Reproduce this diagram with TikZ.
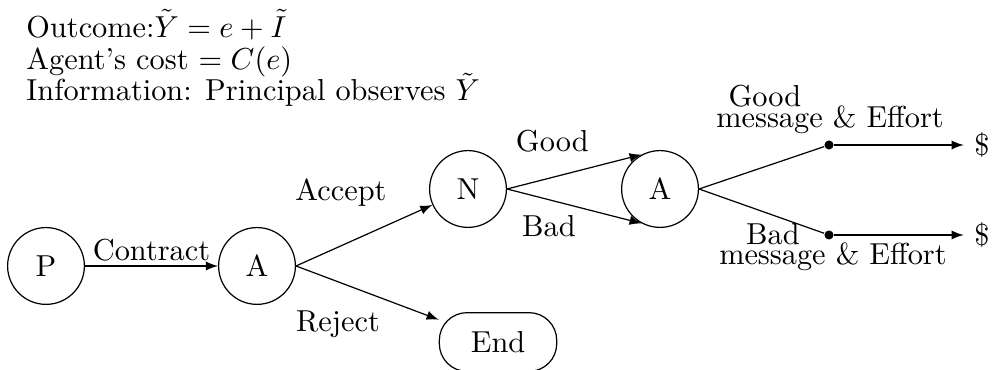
\documentclass[tikz,border=0pt]{standalone}
\usepackage{amsmath}
\usepackage{tikz}
\usetikzlibrary{arrows, positioning, shapes.misc}
\tikzset{
  player/.style={circle, draw, minimum size=0.89cm, inner sep=0pt},
  terminal/.style={rectangle, draw, rounded corners=0.32cm, minimum width=1.36cm,
    minimum height=0.68cm},
  choice/.style={circle, fill, inner sep=0pt, minimum size=3pt},
  arrow/.style={->,>=latex}
}

\begin{document}
\begin{tikzpicture}[
    rotulo/.style={inner sep=1pt},
    linha/.style={anchor=base west, inner sep=0pt},
]
\useasboundingbox (0,0) rectangle (11.495,-4.287);

\node (outcome) [linha] at (0.30,-0.43) {Outcome:$\tilde{Y} = e + \tilde{I}$};
\node (cost)    [linha] at (0.30,-0.80) {Agent's cost $= C(e)$};
\node (info)    [linha] at (0.30,-1.17) {Information: Principal observes $\tilde{Y}$};

\node (P)   [player]   at (0.533,-3.082) {P};
\node (A)   [player]   at (2.978,-3.082) {A};
\node (N)   [player]   at (5.423,-2.19)  {N};
\node (A2)  [player]   at (7.648,-2.19)  {A};
\node (end) [terminal] at (5.771,-3.963) {End};

\node (gdot) [choice] at (9.606,-1.680) {};
\node (bdot) [choice] at (9.606,-2.723) {};
\node (gpay) at (11.379,-1.680) {\$};
\node (bpay) at (11.379,-2.723) {\$};

% labels
\node (accept) [rotulo] at (3.951,-2.236) {Accept};
\node (reject) [rotulo] at (3.917,-3.754) {Reject};
\node (good)   [rotulo] at (6.40,-1.63)   {Good};
\node (bad)    [rotulo] at (6.36,-2.62)   {Bad};
\node (gmsg1)  [rotulo] at (8.864,-1.11)  {Good};
\node (gmsg2)  [rotulo] at (9.618,-1.39)  {message \& Effort};
\node (bmsg1)  [rotulo] at (8.957,-2.711) {Bad};
\node (bmsg2)  [rotulo] at (9.652,-2.978) {message \& Effort};

\draw[arrow] (P) -- node[above, inner sep=1.5pt] {Contract} (A);
\draw[arrow] (A.east) -- (N);
\draw[arrow] (A.east) -- (end);
\draw[arrow] (N.east) -- (A2.118);
\draw[arrow] (N.east) -- (A2.242);
\draw (A2.east) -- (gdot);
\draw (A2.east) -- (bdot);
\draw[arrow] (gdot) -- (gpay);
\draw[arrow] (bdot) -- (bpay);
\end{tikzpicture}
\end{document}
